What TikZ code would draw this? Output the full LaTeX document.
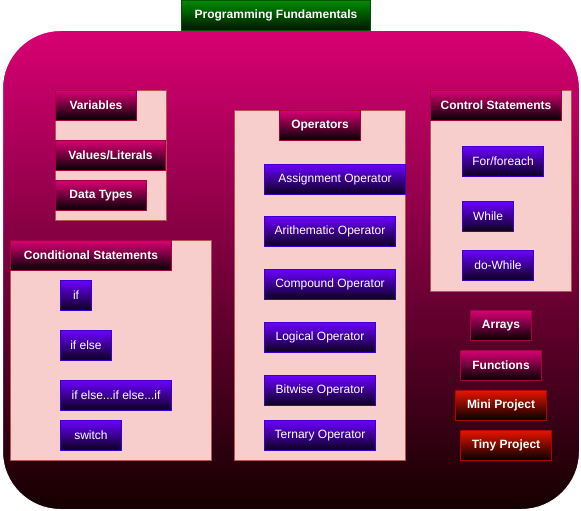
\documentclass[tikz,border=0pt]{standalone}
\usepackage{fontspec}
\setmainfont{Liberation Sans}
\usepackage{tikz}
\definecolor{magTop}{HTML}{D80073}
\definecolor{magLine}{HTML}{A50040}
\definecolor{bluTop}{HTML}{6A00FF}
\definecolor{bluLine}{HTML}{3700CC}
\definecolor{redTop}{HTML}{E51400}
\definecolor{redLine}{HTML}{B20000}
\definecolor{grnTop}{HTML}{008A00}
\definecolor{grnLine}{HTML}{005700}
\definecolor{grpFill}{HTML}{F8CECC}
\definecolor{grpLine}{HTML}{B85450}

\begin{document}
\begin{tikzpicture}[x=1pt, y=-1pt,
  every node/.style={anchor=north west, inner sep=0pt, line width=1pt,
    font=\fontsize{12}{14}\selectfont, text=white, minimum height=30pt},
  grp/.style={fill=grpFill, draw=grpLine},
  hdr/.style={draw=magLine, top color=magTop, bottom color=black,
    font=\fontsize{12}{14}\selectfont\bfseries},
  item/.style={draw=bluLine, top color=bluTop, bottom color=black!90!bluTop},
  proj/.style={draw=redLine, top color=redTop, bottom color=black,
    font=\fontsize{12}{14}\selectfont\bfseries}]

\useasboundingbox (0,0) rectangle (581,511);

% background panel
\node[rounded corners=58pt, top color=magTop, bottom color=black!92!red,
  draw=white, minimum width=577pt, minimum height=479pt] (panel) at (2,30) {};

% title
\node[draw=grnLine, top color=grnTop, bottom color=black!85!grnTop,
  font=\fontsize{12}{14}\selectfont\bfseries, minimum width=189pt] (title) at (181,0) {Programming Fundamentals};

% groups
\node[grp, minimum width=111pt, minimum height=130pt] (gVar) at (55,90) {};
\node[grp, minimum width=201pt, minimum height=220pt] (gCond) at (10,240) {};
\node[grp, minimum width=171pt, minimum height=350pt] (gOps) at (234,110) {};
\node[grp, minimum width=141pt, minimum height=201pt] (gCtrl) at (430,90) {};

% variables
\node[hdr, minimum width=81pt] (vars) at (55,90) {Variables};
\node[hdr, minimum width=110pt] (vals) at (55,140) {Values/Literals};
\node[hdr, minimum width=91pt] (types) at (55,180) {Data Types};

% conditional statements
\node[hdr, minimum width=161pt] (cond) at (10,240) {Conditional Statements};
\node[item, minimum width=31pt] (cIf) at (60,280) {if};
\node[item, minimum width=51pt] (cIfElse) at (60,330) {if else};
\node[item, minimum width=111pt] (cIfChain) at (60,380) {if else...if else...if};
\node[item, minimum width=61pt] (cSwitch) at (60,420) {switch};

% operators
\node[hdr, minimum width=81pt] (ops) at (279,110) {Operators};
\node[item, minimum width=141pt] (oAssign) at (264,164) {Assignment Operator};
\node[item, minimum width=131pt] (oArith) at (264,216) {Arithematic Operator};
\node[item, minimum width=131pt] (oComp) at (264,269) {Compound Operator};
\node[item, minimum width=111pt] (oLogic) at (264,322) {Logical Operator};
\node[item, minimum width=111pt] (oBit) at (264,375) {Bitwise Operator};
\node[item, minimum width=111pt] (oTern) at (264,420) {Ternary Operator};

% control statements
\node[hdr, minimum width=131pt] (ctrl) at (430,90) {Control Statements};
\node[item, minimum width=81pt] (lFor) at (462,146) {For/foreach};
\node[item, minimum width=51pt] (lWhile) at (462,201) {While};
\node[item, minimum width=71pt] (lDo) at (462,250) {do-While};

% remaining topics
\node[hdr, minimum width=61pt] (arrays) at (470,310) {Arrays};
\node[hdr, minimum width=81pt] (funcs) at (460,350) {Functions};
\node[proj, minimum width=91pt] (mini) at (455,390) {Mini Project};
\node[proj, minimum width=91pt] (tiny) at (460,430) {Tiny Project};

\end{tikzpicture}
\end{document}
